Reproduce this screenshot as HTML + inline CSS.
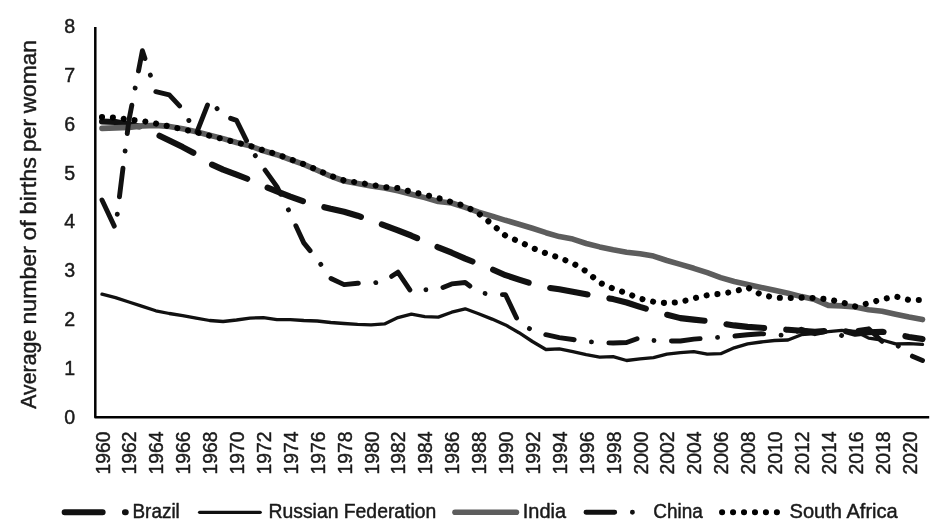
<!DOCTYPE html><html><head><meta charset="utf-8"><title>Fertility</title>
<style>html,body{margin:0;padding:0;background:#fff}body{width:945px;height:522px;overflow:hidden}svg{display:block;will-change:transform;opacity:0.999}text{font-family:"Liberation Sans",sans-serif;fill:#1a1a1a;stroke:#1a1a1a;stroke-width:0.45px;stroke-linejoin:round}</style></head><body>
<svg width="945" height="522" viewBox="0 0 945 522">
<rect width="945" height="522" fill="#fff"/>
<g fill="none" stroke-linejoin="round" stroke-linecap="round">
<polyline points="102.0,121.5 115.5,122.0 128.9,124.5 142.4,126.9 155.8,134.0 169.3,140.5 182.7,147.1 196.2,154.2 209.6,163.5 223.1,169.6 236.5,174.7 250.0,179.8 263.4,185.9 276.9,191.3 290.3,196.6 303.8,201.5 317.2,205.4 330.7,208.8 344.1,211.8 357.6,215.7 371.0,220.5 384.5,225.4 397.9,230.3 411.4,235.7 424.8,241.5 438.3,247.4 451.7,252.7 465.2,258.6 478.6,263.9 492.1,269.3 505.5,275.2 519.0,279.6 532.4,283.9 545.9,287.4 559.3,289.3 572.8,291.7 586.2,294.2 599.7,296.6 613.1,299.1 626.6,302.5 640.0,306.9 653.5,310.8 666.9,314.7 680.4,318.1 693.8,319.6 707.3,321.0 720.7,323.5 734.2,325.4 747.6,326.9 761.1,327.8 774.5,328.8 788.0,329.8 801.4,330.8 814.9,331.7 828.3,330.8 841.8,330.3 855.2,333.7 868.7,332.2 882.1,331.7 895.6,334.2 909.0,336.9 922.5,339.1" stroke="#111" stroke-width="6.1" stroke-dasharray="37.9 22.2"/>
<polyline points="102.0,294.2 115.5,297.6 128.9,302.0 142.4,306.4 155.8,310.8 169.3,313.5 182.7,315.6 196.2,318.1 209.6,320.5 223.1,321.5 236.5,320.0 250.0,318.1 263.4,317.6 276.9,319.6 290.3,319.6 303.8,320.5 317.2,321.0 330.7,322.5 344.1,323.5 357.6,324.4 371.0,324.9 384.5,323.9 397.9,317.6 411.4,314.2 424.8,316.6 438.3,317.1 451.7,312.2 465.2,308.8 478.6,313.7 492.1,319.1 505.5,324.9 519.0,332.7 532.4,341.5 545.9,349.5 559.3,348.8 572.8,351.7 586.2,354.7 599.7,357.1 613.1,356.6 626.6,360.5 640.0,358.8 653.5,357.6 666.9,354.2 680.4,352.7 693.8,351.7 707.3,354.2 720.7,353.7 734.2,347.8 747.6,343.9 761.1,342.0 774.5,340.5 788.0,340.0 801.4,334.7 814.9,333.7 828.3,331.7 841.8,330.3 855.2,331.3 868.7,338.1 882.1,340.0 895.6,343.9 909.0,343.7 922.5,344.4" stroke="#111" stroke-width="3.3"/>
<polyline points="102.0,128.4 115.5,127.9 128.9,127.4 142.4,125.9 155.8,125.4 169.3,126.4 182.7,128.8 196.2,131.8 209.6,135.2 223.1,138.6 236.5,142.5 250.0,145.9 263.4,150.8 276.9,154.7 290.3,159.6 303.8,164.4 317.2,170.3 330.7,176.2 344.1,181.0 357.6,183.5 371.0,185.9 384.5,187.9 397.9,190.8 411.4,194.2 424.8,197.6 438.3,201.5 451.7,203.0 465.2,207.4 478.6,212.2 492.1,216.1 505.5,220.3 519.0,224.2 532.4,228.3 545.9,232.7 559.3,236.6 572.8,239.1 586.2,243.5 599.7,246.9 613.1,249.8 626.6,252.2 640.0,253.7 653.5,256.1 666.9,260.5 680.4,264.4 693.8,268.3 707.3,272.7 720.7,277.6 734.2,281.5 747.6,284.4 761.1,287.4 774.5,290.3 788.0,293.2 801.4,296.6 814.9,299.6 828.3,305.4 841.8,305.9 855.2,306.9 868.7,309.8 882.1,311.3 895.6,314.2 909.0,317.1 922.5,319.6" stroke="#5d5d5d" stroke-width="5.6"/>
<polyline points="102.0,200.0 115.5,228.7 128.9,120.3 142.4,50.7 155.8,91.7 169.3,94.9 182.7,109.2 196.2,133.9 209.6,99.6 223.1,115.9 236.5,120.3 250.0,147.7 263.4,167.8 276.9,186.6 290.3,213.7 303.8,242.9 317.2,259.3 330.7,278.3 344.1,284.6 357.6,283.2 371.0,283.5 384.5,281.0 397.9,272.2 411.4,292.2 424.8,289.8 438.3,289.3 451.7,283.9 465.2,282.5 478.6,292.7 492.1,294.2 505.5,294.7 519.0,323.0 532.4,330.3 545.9,334.7 559.3,337.6 572.8,339.5 586.2,341.5 599.7,342.5 613.1,343.0 626.6,342.5 640.0,337.6 653.5,340.5 666.9,341.0 680.4,341.0 693.8,339.1 707.3,338.1 720.7,337.1 734.2,336.1 747.6,334.7 761.1,333.7 774.5,334.7 788.0,335.6 801.4,329.3 814.9,333.7 828.3,330.8 841.8,335.6 855.2,330.8 868.7,328.8 882.1,341.5 895.6,343.9 909.0,354.7 922.5,360.5" stroke="#111" stroke-width="4.9" stroke-dasharray="28.85 17.45 0.01 17.44"/>
<polyline points="102.0,117.1 115.5,117.6 128.9,119.6 142.4,121.0 155.8,123.5 169.3,126.4 182.7,129.3 196.2,132.3 209.6,135.7 223.1,139.1 236.5,142.5 250.0,145.9 263.4,150.3 276.9,154.2 290.3,159.3 303.8,164.2 317.2,169.8 330.7,175.9 344.1,180.5 357.6,182.5 371.0,184.7 384.5,187.1 397.9,188.1 411.4,191.8 424.8,194.7 438.3,198.1 451.7,202.2 465.2,206.1 478.6,213.5 492.1,224.2 505.5,235.7 519.0,241.5 532.4,247.9 545.9,253.2 559.3,257.8 572.8,263.2 586.2,271.3 599.7,282.7 613.1,288.6 626.6,293.2 640.0,298.6 653.5,301.7 666.9,303.2 680.4,302.0 693.8,298.3 707.3,295.2 720.7,293.7 734.2,291.7 747.6,287.4 761.1,294.7 774.5,297.6 788.0,298.1 801.4,297.6 814.9,298.1 828.3,299.3 841.8,302.2 855.2,306.4 868.7,303.2 882.1,299.3 895.6,296.4 909.0,300.0 922.5,300.0" stroke="#000" stroke-width="6.1" stroke-dasharray="0.01 10.89"/>
</g>
<path d="M95.3 26.9V417.3H929.2" fill="none" stroke="#000" stroke-width="2.5" stroke-linejoin="round" stroke-linecap="butt"/>
<text x="69.6" y="423.5" font-size="19.6" text-anchor="middle">0</text>
<text x="69.6" y="374.7" font-size="19.6" text-anchor="middle">1</text>
<text x="69.6" y="325.9" font-size="19.6" text-anchor="middle">2</text>
<text x="69.6" y="277.2" font-size="19.6" text-anchor="middle">3</text>
<text x="69.6" y="228.4" font-size="19.6" text-anchor="middle">4</text>
<text x="69.6" y="179.6" font-size="19.6" text-anchor="middle">5</text>
<text x="69.6" y="130.9" font-size="19.6" text-anchor="middle">6</text>
<text x="69.6" y="82.1" font-size="19.6" text-anchor="middle">7</text>
<text x="69.6" y="33.3" font-size="19.6" text-anchor="middle">8</text>
<text transform="translate(109.5,474.6) rotate(-90)" font-size="19.6" textLength="43" lengthAdjust="spacingAndGlyphs">1960</text>
<text transform="translate(136.4,474.6) rotate(-90)" font-size="19.6" textLength="43" lengthAdjust="spacingAndGlyphs">1962</text>
<text transform="translate(163.3,474.6) rotate(-90)" font-size="19.6" textLength="43" lengthAdjust="spacingAndGlyphs">1964</text>
<text transform="translate(190.2,474.6) rotate(-90)" font-size="19.6" textLength="43" lengthAdjust="spacingAndGlyphs">1966</text>
<text transform="translate(217.1,474.6) rotate(-90)" font-size="19.6" textLength="43" lengthAdjust="spacingAndGlyphs">1968</text>
<text transform="translate(244.0,474.6) rotate(-90)" font-size="19.6" textLength="43" lengthAdjust="spacingAndGlyphs">1970</text>
<text transform="translate(270.9,474.6) rotate(-90)" font-size="19.6" textLength="43" lengthAdjust="spacingAndGlyphs">1972</text>
<text transform="translate(297.8,474.6) rotate(-90)" font-size="19.6" textLength="43" lengthAdjust="spacingAndGlyphs">1974</text>
<text transform="translate(324.7,474.6) rotate(-90)" font-size="19.6" textLength="43" lengthAdjust="spacingAndGlyphs">1976</text>
<text transform="translate(351.6,474.6) rotate(-90)" font-size="19.6" textLength="43" lengthAdjust="spacingAndGlyphs">1978</text>
<text transform="translate(378.5,474.6) rotate(-90)" font-size="19.6" textLength="43" lengthAdjust="spacingAndGlyphs">1980</text>
<text transform="translate(405.4,474.6) rotate(-90)" font-size="19.6" textLength="43" lengthAdjust="spacingAndGlyphs">1982</text>
<text transform="translate(432.3,474.6) rotate(-90)" font-size="19.6" textLength="43" lengthAdjust="spacingAndGlyphs">1984</text>
<text transform="translate(459.2,474.6) rotate(-90)" font-size="19.6" textLength="43" lengthAdjust="spacingAndGlyphs">1986</text>
<text transform="translate(486.1,474.6) rotate(-90)" font-size="19.6" textLength="43" lengthAdjust="spacingAndGlyphs">1988</text>
<text transform="translate(513.0,474.6) rotate(-90)" font-size="19.6" textLength="43" lengthAdjust="spacingAndGlyphs">1990</text>
<text transform="translate(539.9,474.6) rotate(-90)" font-size="19.6" textLength="43" lengthAdjust="spacingAndGlyphs">1992</text>
<text transform="translate(566.8,474.6) rotate(-90)" font-size="19.6" textLength="43" lengthAdjust="spacingAndGlyphs">1994</text>
<text transform="translate(593.7,474.6) rotate(-90)" font-size="19.6" textLength="43" lengthAdjust="spacingAndGlyphs">1996</text>
<text transform="translate(620.6,474.6) rotate(-90)" font-size="19.6" textLength="43" lengthAdjust="spacingAndGlyphs">1998</text>
<text transform="translate(647.5,474.6) rotate(-90)" font-size="19.6" textLength="43" lengthAdjust="spacingAndGlyphs">2000</text>
<text transform="translate(674.4,474.6) rotate(-90)" font-size="19.6" textLength="43" lengthAdjust="spacingAndGlyphs">2002</text>
<text transform="translate(701.3,474.6) rotate(-90)" font-size="19.6" textLength="43" lengthAdjust="spacingAndGlyphs">2004</text>
<text transform="translate(728.2,474.6) rotate(-90)" font-size="19.6" textLength="43" lengthAdjust="spacingAndGlyphs">2006</text>
<text transform="translate(755.1,474.6) rotate(-90)" font-size="19.6" textLength="43" lengthAdjust="spacingAndGlyphs">2008</text>
<text transform="translate(782.0,474.6) rotate(-90)" font-size="19.6" textLength="43" lengthAdjust="spacingAndGlyphs">2010</text>
<text transform="translate(808.9,474.6) rotate(-90)" font-size="19.6" textLength="43" lengthAdjust="spacingAndGlyphs">2012</text>
<text transform="translate(835.8,474.6) rotate(-90)" font-size="19.6" textLength="43" lengthAdjust="spacingAndGlyphs">2014</text>
<text transform="translate(862.7,474.6) rotate(-90)" font-size="19.6" textLength="43" lengthAdjust="spacingAndGlyphs">2016</text>
<text transform="translate(889.6,474.6) rotate(-90)" font-size="19.6" textLength="43" lengthAdjust="spacingAndGlyphs">2018</text>
<text transform="translate(916.5,474.6) rotate(-90)" font-size="19.6" textLength="43" lengthAdjust="spacingAndGlyphs">2020</text>
<text transform="translate(36,408.8) rotate(-90)" font-size="22" textLength="79.0" lengthAdjust="spacingAndGlyphs">Average</text>
<text transform="translate(36,324.6) rotate(-90)" font-size="22" textLength="78.5" lengthAdjust="spacingAndGlyphs">number</text>
<text transform="translate(36,240.4) rotate(-90)" font-size="22" textLength="20.1" lengthAdjust="spacingAndGlyphs">of</text>
<text transform="translate(36,214.4) rotate(-90)" font-size="22" textLength="57.3" lengthAdjust="spacingAndGlyphs">births</text>
<text transform="translate(36,152.0) rotate(-90)" font-size="22" textLength="33.2" lengthAdjust="spacingAndGlyphs">per</text>
<text transform="translate(36,113.3) rotate(-90)" font-size="22" textLength="73.3" lengthAdjust="spacingAndGlyphs">woman</text>
<g fill="none" stroke-linecap="round">
<path d="M64.7 512.3 H125.7" stroke="#111" stroke-width="6.1" stroke-dasharray="37.9 22.4"/>
<path d="M199.6 512.3 H260.2" stroke="#111" stroke-width="3.3"/>
<path d="M455 512.3 H516.4" stroke="#5d5d5d" stroke-width="5.6"/>
<path d="M586 512.3 H646" stroke="#111" stroke-width="4.9" stroke-dasharray="28.7 17.7 0.01 17"/>
<path d="M722.1 512.3 H780" stroke="#000" stroke-width="6.1" stroke-dasharray="0.01 10.95"/>
</g>
<text x="132.5" y="517.6" font-size="19.6" textLength="47.3" lengthAdjust="spacingAndGlyphs">Brazil</text>
<text x="268.5" y="517.6" font-size="19.6" textLength="167.8" lengthAdjust="spacingAndGlyphs">Russian Federation</text>
<text x="522.8" y="517.6" font-size="19.6" textLength="43.2" lengthAdjust="spacingAndGlyphs">India</text>
<text x="653.2" y="517.6" font-size="19.6" textLength="49.6" lengthAdjust="spacingAndGlyphs">China</text>
<text x="789.5" y="517.6" font-size="19.6" textLength="108.3" lengthAdjust="spacingAndGlyphs">South Africa</text>
</svg></body></html>
